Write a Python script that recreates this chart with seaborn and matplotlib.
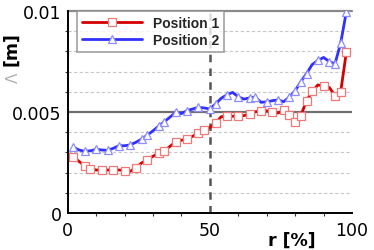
import numpy as np
import pandas as pd
import matplotlib
matplotlib.use("Agg")
import matplotlib.pyplot as plt
import seaborn as sns
from matplotlib.ticker import MultipleLocator

# ---- data ----
r = list(range(2, 100, 2))
pos1 = [2.79, 2.55, 2.34, 2.20, 2.13, 2.12, 2.13, 2.12, 2.13, 2.10,
        2.06, 2.25, 2.48, 2.62, 2.81, 2.95, 3.09, 3.30, 3.53, 3.60,
        3.66, 3.80, 3.96, 4.10, 4.24, 4.45, 4.77, 4.78, 4.79, 4.80,
        4.82, 4.90, 5.01, 5.05, 5.06, 5.00, 4.95, 5.10, 4.85, 4.50,
        4.82, 5.56, 6.02, 6.34, 6.28, 6.22, 5.81, 5.98, 7.95]
pos2 = [3.25, 3.12, 3.05, 3.08, 3.15, 3.12, 3.10, 3.20, 3.33, 3.33,
        3.37, 3.50, 3.66, 3.85, 4.07, 4.30, 4.52, 4.75, 4.98, 4.92,
        5.07, 5.15, 5.23, 5.20, 5.15, 5.40, 5.68, 5.85, 5.97, 5.75,
        5.64, 5.70, 5.73, 5.48, 5.50, 5.56, 5.60, 5.51, 5.75, 6.05,
        6.50, 6.90, 7.35, 7.55, 7.70, 7.50, 7.38, 8.40, 9.95]
pos1 = [v * 1e-3 for v in pos1]
pos2 = [v * 1e-3 for v in pos2]
labels = ["Position 1", "Position 2"]
xticks_major = [0, 50, 100]
yticks_major = [0, 0.005, 0.01]
ytick_labels = ["0", "0.005", "0.01"]

sns.set_theme(style="white")
plt.rcParams["font.family"] = ["DejaVu Sans"]

W, H = 374, 251
fig = plt.figure(figsize=(W / 100, H / 100), dpi=100)
ax = fig.add_axes([67.7 / W, 1 - 214 / H, (352 - 67.7) / W, (214 - 12) / H])

df1 = pd.DataFrame({"r": r, "v": pos1})
df2 = pd.DataFrame({"r": r, "v": pos2})

# grid lines
for yv in [0.001, 0.002, 0.003, 0.004, 0.006, 0.007, 0.008, 0.009]:
    ax.axhline(yv, color="#c8c8c8", lw=0.8, ls=(0, (3, 2)), zorder=0)
ax.axhline(0.005, color="#6e6e6e", lw=1.6, zorder=1)
ax.axhline(0.01, color="#8a8a8a", lw=1.6, zorder=1, clip_on=False)
ax.axvline(50, color="#555555", lw=1.8, ls=(0, (3, 2.5)), zorder=1)

sns.lineplot(data=df1, x="r", y="v", ax=ax, color="#d40000", lw=2.0,
             marker="s", markersize=5.2, markerfacecolor="white",
             markeredgecolor="#f07878", markeredgewidth=0.9,
             markevery=0.033, estimator=None, label=labels[0], zorder=3)
sns.lineplot(data=df2, x="r", y="v", ax=ax, color="#3030ff", lw=2.0,
             marker="^", markersize=6, markerfacecolor="white",
             markeredgecolor="#8c8cff", markeredgewidth=0.9,
             markevery=0.033, estimator=None, label=labels[1], zorder=3)

ax.set_xlim(0, 100)
ax.set_ylim(0, 0.01)
ax.set_xticks(xticks_major)
ax.set_xticklabels([str(t) for t in xticks_major])
ax.xaxis.set_minor_locator(MultipleLocator(10))
ax.set_yticks(yticks_major)
ax.set_yticklabels(ytick_labels)
ax.yaxis.set_minor_locator(MultipleLocator(0.001))

for s in ["top", "right"]:
    ax.spines[s].set_visible(False)
for s in ["left", "bottom"]:
    ax.spines[s].set_color("black")
    ax.spines[s].set_linewidth(1.4)

ax.tick_params(axis="both", which="major", direction="out", length=4, width=1.2,
               color="black", labelsize=12.5, labelcolor="black")
ax.tick_params(axis="y", which="major", pad=0.5)
ax.tick_params(axis="x", which="major", pad=1.5)
ax.tick_params(axis="both", which="minor", direction="out", length=2.2, width=0.8,
               color="#333333", bottom=True, left=True)

ax.set_xlabel("r [%]", fontsize=12.5, fontweight="bold", color="black")
ax.xaxis.set_label_coords(0.79, -0.09)
ax.set_ylabel("")

fig.text(11 / W, 1 - 49 / H, "[m]", rotation=90, ha="center", va="center",
         fontsize=12.5, fontweight="bold", color="black")
fig.text(13 / W, 1 - 78 / H, "Λ", rotation=90, ha="center", va="center",
         fontsize=11, color="#b0b0b0")

leg = ax.legend(loc="upper left", bbox_to_anchor=(0.033, 1.0), borderaxespad=0,
                frameon=True, fancybox=False, handlelength=4.3, handletextpad=0.8,
                borderpad=0.35, labelspacing=0.25,
                prop={"family": "Liberation Sans", "weight": "bold", "size": 10})
leg.get_frame().set_edgecolor("#8a8a8a")
leg.get_frame().set_linewidth(1.2)
leg.get_frame().set_facecolor("white")

fig.savefig("out.png", dpi=100)
